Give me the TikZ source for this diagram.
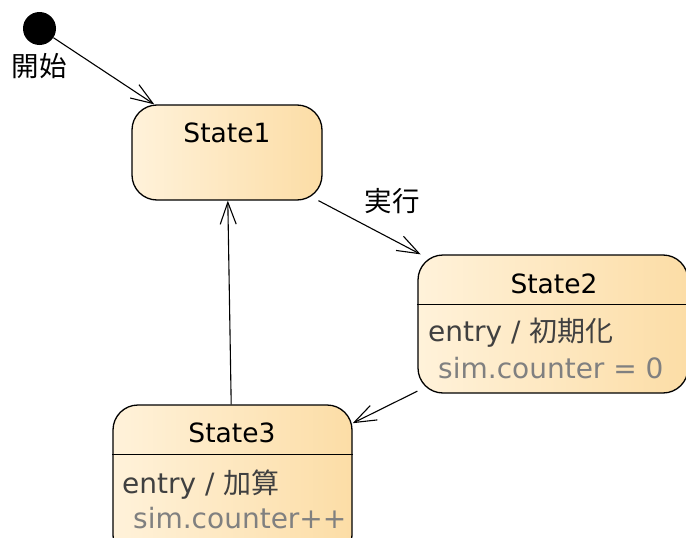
\documentclass[tikz,border=0pt]{standalone}
\usepackage{fontspec}
\setmainfont{DejaVu Sans}
\newfontfamily\jpfont{Noto Sans CJK JP}
\usetikzlibrary{arrows.meta}
\definecolor{stateL}{RGB}{255,242,218}
\definecolor{stateR}{RGB}{252,221,166}
\definecolor{entrygray}{RGB}{64,64,64}
\definecolor{actgray}{RGB}{128,128,128}
\tikzset{
  statebox/.style={shape=rectangle,draw,line width=1.3pt,rounded corners=25pt,left color=stateL,right color=stateR,inner sep=0pt},
  titletxt/.style={anchor=base,font=\fontsize{26.5}{30}\selectfont},
  entrytxt/.style={anchor=base west,inner sep=0pt,text=entrygray,font=\fontsize{28}{32}\selectfont},
  acttxt/.style={anchor=base west,inner sep=0pt,text=actgray,font=\fontsize{28}{32}\selectfont},
  trans/.style={-{Straight Barb[length=22pt,width=16pt]},line width=1.1pt}
}
\begin{document}
\begin{tikzpicture}[x=1pt,y=-1pt]
\useasboundingbox (0,0) rectangle (686,538);
\clip (0,0) rectangle (686,538);
\node[shape=circle,fill=black,minimum size=33pt,inner sep=0pt](init) at (39.5,28.5){};
\node[font=\jpfont\fontsize{27.5}{30}\selectfont](initlbl) at (39.5,66){開始};
\node[statebox,minimum width=190pt,minimum height=95pt](S1) at (227,152.5){};
\node[titletxt](S1t) at (227,142){State1};
\node[statebox,minimum width=270pt,minimum height=138pt](S2) at (553,324){};
\draw[line width=1.3pt] ([yshift=-50pt]S2.north west) -- ([yshift=-50pt]S2.north east);
\node[titletxt](S2t) at (554,293){State2};
\node[entrytxt](S2e) at (428,341){entry / {\jpfont 初期化}};
\node[acttxt](S2a) at (438,378){sim.counter = 0};
\node[statebox,minimum width=239pt,minimum height=155pt](S3) at (232.5,482.5){};
\draw[line width=1.3pt] ([yshift=-50pt]S3.north west) -- ([yshift=-50pt]S3.north east);
\node[titletxt](S3t) at (232,442){State3};
\node[entrytxt](S3e) at (122,493){entry / {\jpfont 加算}};
\node[acttxt](S3a) at (133,528){sim.counter++};
\draw[trans] (init) -- (S1);
\draw[trans] (S1) -- (S2);
\node[font=\jpfont\fontsize{27.5}{30}\selectfont](run) at (392,201){実行};
\draw[trans] (S2) -- (S3);
\draw[trans] (S3) -- (S1);
\end{tikzpicture}
\end{document}
